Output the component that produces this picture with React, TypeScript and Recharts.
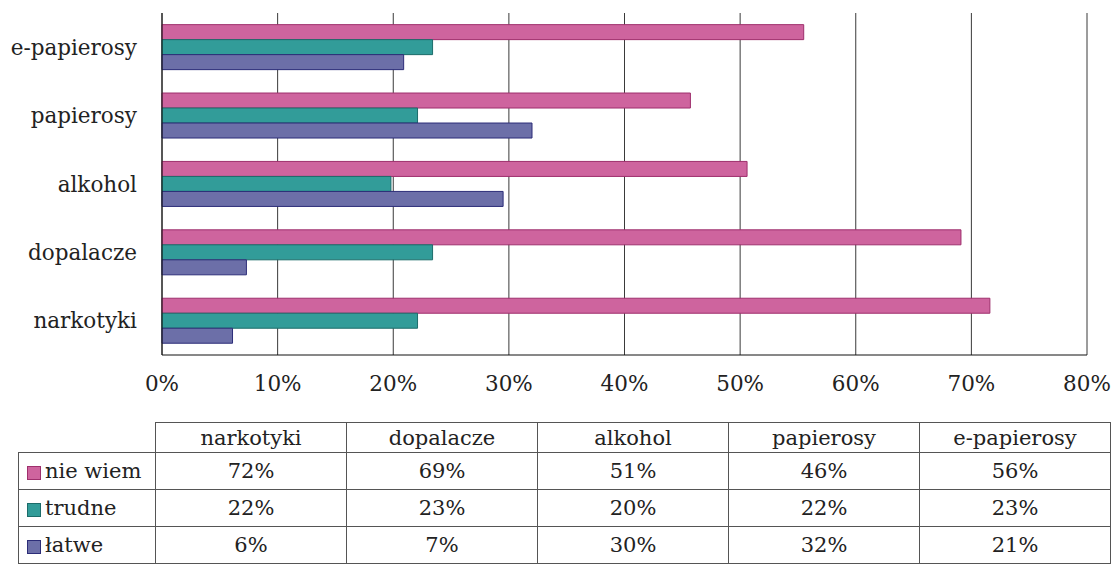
import React from "react";
import { BarChart, Bar, XAxis, YAxis, CartesianGrid } from "recharts";

const categories = ["narkotyki", "dopalacze", "alkohol", "papierosy", "e-papierosy"];
const nieWiem = [71.6, 69.1, 50.6, 45.7, 55.5];
const trudne = [22.1, 23.4, 19.8, 22.1, 23.4];
const latwe = [6.1, 7.3, 29.5, 32.0, 20.9];
const xTicks = [0, 10, 20, 30, 40, 50, 60, 70, 80];

const series = [
  { key: "nieWiem", name: "nie wiem", values: nieWiem, fill: "#CE649E", stroke: "#9E2F6C" },
  { key: "trudne", name: "trudne", values: trudne, fill: "#329C99", stroke: "#1C6C6A" },
  { key: "latwe", name: "łatwe", values: latwe, fill: "#6C6FA8", stroke: "#2C2D78" },
];

const data = categories.map((c, i) => ({
  name: c,
  nieWiem: nieWiem[i],
  trudne: trudne[i],
  latwe: latwe[i],
}));

const FONT = "'DejaVu Serif', 'Liberation Serif', serif";

const cellBorder = "1px solid #555";

export default function App() {
  return (
    <div
      style={{
        position: "absolute",
        left: 0,
        top: 0,
        width: 1114,
        height: 564,
        background: "#fff",
        fontFamily: FONT,
        color: "#222",
      }}
    >
      <BarChart
        width={1114}
        height={405}
        data={data}
        layout="vertical"
        margin={{ top: 13, right: 27, bottom: 0, left: 0 }}
        barCategoryGap="17%"
        barGap={0}
      >
        <CartesianGrid horizontal={false} stroke="#3a3a3a" strokeWidth={1} />
        <XAxis
          type="number"
          domain={[0, 80]}
          ticks={xTicks}
          tickFormatter={(v: number) => `${v}%`}
          tickLine={false}
          tickSize={0}
          tickMargin={21}
          height={50}
          axisLine={{ stroke: "#111" }}
          tick={{ fill: "#222", fontSize: 21.5, fontFamily: FONT }}
          interval={0}
        />
        <YAxis
          type="category"
          dataKey="name"
          reversed
          width={162}
          tickLine={false}
          tickSize={0}
          tickMargin={25}
          axisLine={{ stroke: "#111" }}
          tick={{ fill: "#222", fontSize: 21.5, fontFamily: FONT }}
        />
        {series.map((s) => (
          <Bar
            key={s.key}
            dataKey={s.key}
            name={s.name}
            fill={s.fill}
            stroke={s.stroke}
            strokeWidth={1}
            isAnimationActive={false}
          />
        ))}
      </BarChart>
      <table
        style={{
          position: "absolute",
          left: 18,
          top: 422,
          borderCollapse: "collapse",
          fontFamily: FONT,
          fontSize: 21,
          color: "#222",
          tableLayout: "fixed",
        }}
      >
        <colgroup>
          <col style={{ width: 137 }} />
          {categories.map((c) => (
            <col key={c} style={{ width: 191 }} />
          ))}
        </colgroup>
        <tbody>
          <tr style={{ height: 30 }}>
            <td style={{ padding: 0 }}></td>
            {categories.map((c) => (
              <td key={c} style={{ border: cellBorder, textAlign: "center", padding: 0, lineHeight: "28px" }}>
                {c}
              </td>
            ))}
          </tr>
          {series.map((s) => (
            <tr key={s.key} style={{ height: 37 }}>
              <td style={{ border: cellBorder, padding: "0 0 0 8px", whiteSpace: "nowrap", overflow: "hidden" }}>
                <span
                  style={{
                    display: "inline-block",
                    width: 12,
                    height: 12,
                    background: s.fill,
                    border: `1px solid ${s.stroke}`,
                    marginRight: 4,
                    verticalAlign: "middle",
                  }}
                />
                {s.name}
              </td>
              {s.values.map((v, i) => (
                <td key={i} style={{ border: cellBorder, textAlign: "center", padding: 0 }}>
                  {`${Math.round(v)}%`}
                </td>
              ))}
            </tr>
          ))}
        </tbody>
      </table>
    </div>
  );
}
